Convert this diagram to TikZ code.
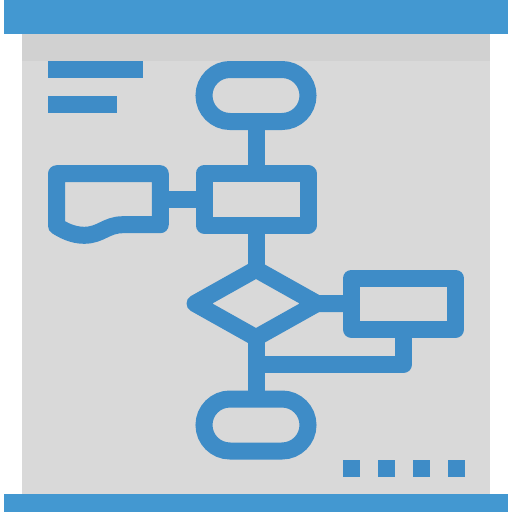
\documentclass[tikz,border=0pt]{standalone}
\usetikzlibrary{shapes.geometric,shapes.misc}
\newlength{\du}
\setlength{\du}{1pt}
\definecolor{barblue}{RGB}{67,152,209}
\definecolor{flowblue}{RGB}{62,140,199}
\definecolor{panelgray}{RGB}{217,217,217}
\definecolor{stripgray}{RGB}{209,209,209}
\tikzset{
  flowline/.style={draw=flowblue, line width=17\du},
  terminal/.style={flowline, rounded rectangle, inner sep=0pt, outer sep=0pt, minimum width=104\du, minimum height=52\du},
  process/.style={flowline, rectangle, line join=round, inner sep=0pt, outer sep=0pt, minimum width=104\du, minimum height=51.5\du},
  decision/.style={flowline, diamond, line join=round, inner sep=0pt, outer sep=0pt, minimum width=122\du, minimum height=68.4\du},
}
\begin{document}
\begin{tikzpicture}
\pgftransformxscale{1.000000}
\pgftransformyscale{-1.000000}
\useasboundingbox (0\du,0\du) rectangle (512\du,512\du);
% board
\fill[panelgray] (21.7\du,34\du) rectangle (490\du,494\du);
\fill[stripgray] (21.7\du,34\du) rectangle (490\du,61\du);
\fill[barblue] (4\du,0\du) rectangle (508\du,34\du);
\fill[barblue] (4\du,494\du) rectangle (508\du,512\du);
% title lines
\fill[flowblue] (48\du,61\du) rectangle (143\du,78\du);
\fill[flowblue] (48\du,96\du) rectangle (117\du,112.5\du);
% flow chart
\node[terminal] (start) at (256\du,95.5\du) {};
\node[process] (proc) at (256\du,199.3\du) {};
\node[decision] (dec) at (256\du,303.5\du) {};
\node[process] (result) at (403.5\du,303.8\du) {};
\node[terminal] (stop) at (256\du,425\du) {};
\draw[flowline, line join=round] (56.5\du,173.7\du) -- (160.3\du,173.7\du) -- (160.3\du,224.7\du) -- (123\du,224.7\du)
  .. controls (106\du,224.7\du) and (101\du,235.3\du) .. (84\du,235.3\du)
  .. controls (72\du,235.3\du) and (62\du,229.5\du) .. (56.5\du,226\du) -- cycle;
\coordinate (doc) at (160.3\du,199.3\du);
\coordinate (merge) at (256\du,364.5\du);
\draw[flowline] (start.south) -- (proc.north);
\draw[flowline] (doc) -- (proc.west);
\draw[flowline] (proc.south) -- (dec.north);
\draw[flowline] (dec.east) -- (result.west);
\draw[flowline] (dec.south) -- (stop.north);
\draw[flowline, line join=round] (result.south) |- (merge);
% page marks
\foreach \x in {343,378,412.5,447.5}
  \fill[flowblue] (\x\du,460\du) rectangle ++(17\du,17\du);
\end{tikzpicture}
\end{document}
